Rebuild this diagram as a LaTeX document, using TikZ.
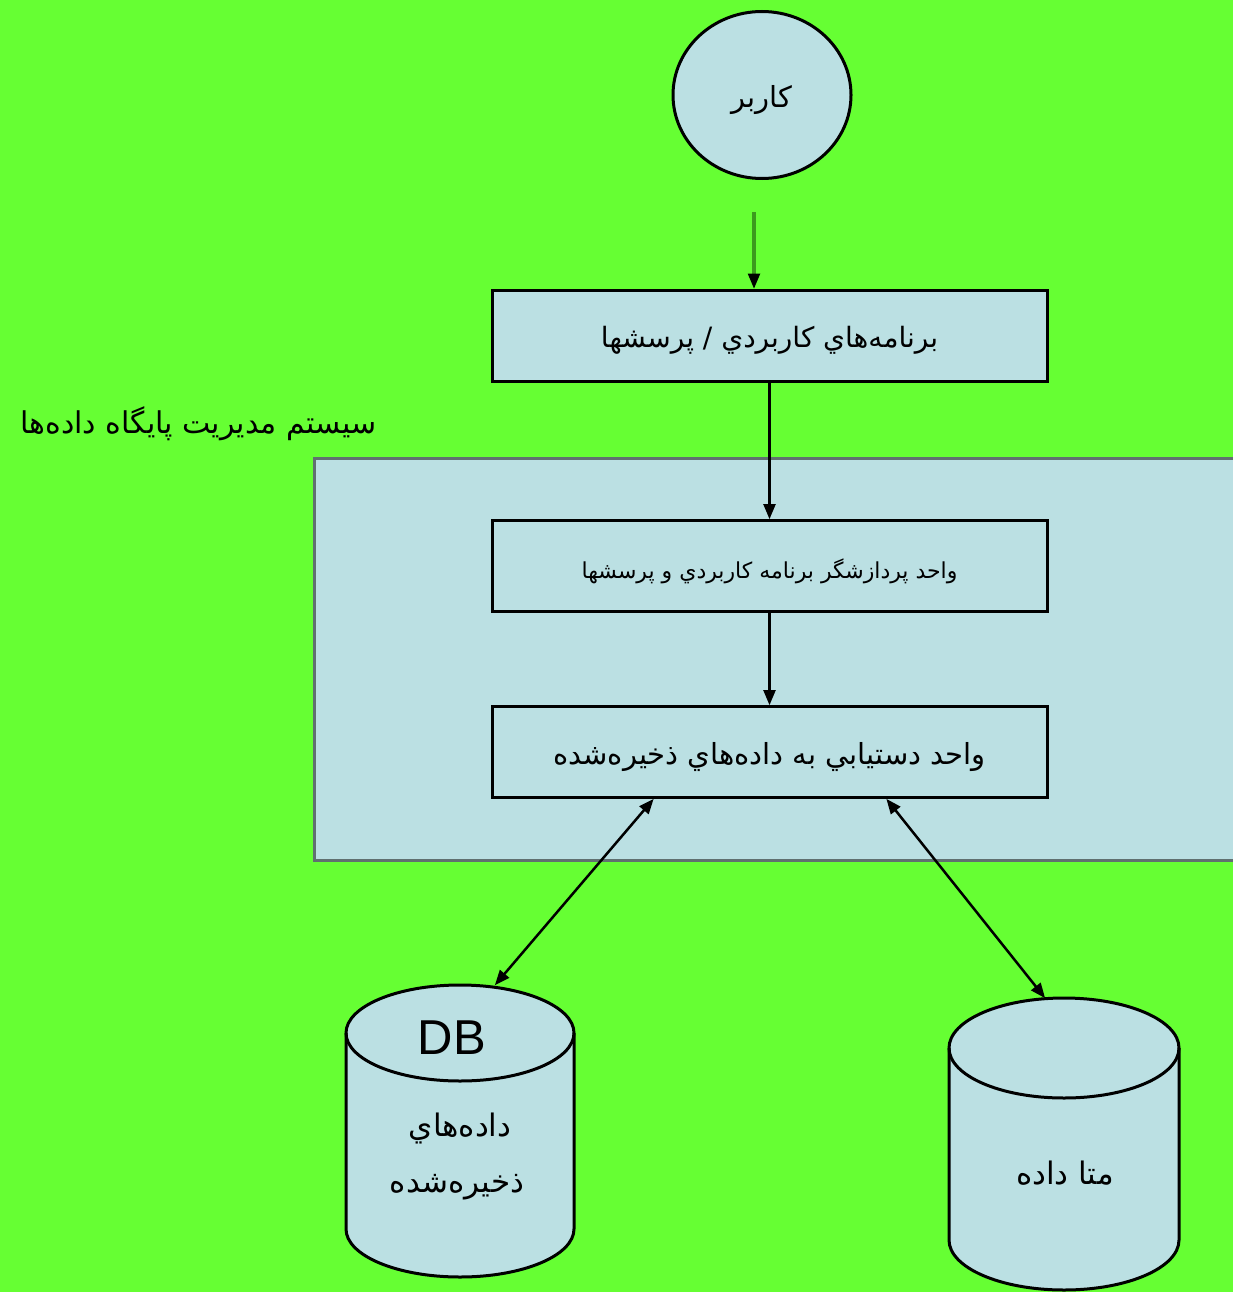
\documentclass[tikz,border=0pt]{standalone}
\usepackage{fontspec}
\setmainfont{Liberation Sans}
\newfontfamily\arabicfont[Script=Arabic]{DejaVu Sans}
\TeXXeTstate=1
\usetikzlibrary{arrows,shapes.geometric}
\definecolor{bg}{RGB}{102,255,51}
\definecolor{pale}{RGB}{187,224,227}
\definecolor{stem}{RGB}{60,154,30}
\definecolor{frame}{RGB}{96,112,112}
\newcommand{\fa}[1]{\raisebox{-5pt}[\height][\depth]{\arabicfont\beginR #1\endR}}

\begin{document}
\begin{tikzpicture}[x=1pt,y=1pt,>=triangle 45,
	unit/.style={draw,fill=pale,line width=3pt,minimum width=555pt,minimum height=91pt,inner sep=0pt},
	link/.style={line width=2.5pt},
	txt/.style={font=\fontsize{29}{34}\selectfont}]
	\fill[bg] (0,0) rectangle (1233,-1292);
	\useasboundingbox (0,0) rectangle (1233,-1292);
	
	% user
	\node[ellipse,draw,fill=pale,line width=3pt,minimum width=178pt,minimum height=167pt,txt] (user) at (762,-95) {\fa{کاربر}};
	
	% dbms region
	\draw[frame,fill=pale,line width=3pt] (314,-458) rectangle (1250,-860);
	\node[font=\fontsize{30}{34}\selectfont,anchor=east] (dbms) at (380,-419) {\fa{سيستم مديريت پايگاه داده^^^^200cها}};
	
	\node[unit,font=\fontsize{28}{32}\selectfont] (apps) at (769.5,-335.5) {\fa{برنامه^^^^200cهاي کاربردي / پرسشها}};
	\node[unit,font=\fontsize{22}{26}\selectfont] (proc) at (769.5,-566) {\fa{واحد پردازشگر برنامه کاربردي و پرسشها}};
	\node[unit,txt] (access) at (769.5,-752) {\fa{واحد دستيابي به داده^^^^200cهاي ذخيره^^^^200cشده}};
	
	\coordinate (ustart) at (754,-212);
	\draw[stem,line width=3.5pt] (ustart) -- ([yshift=8pt]ustart |- apps.north);
	\draw[->,link] ([yshift=12pt]ustart |- apps.north) -- (ustart |- apps.north);
	\draw[->,link] (apps) -- (proc);
	\draw[->,link] (proc) -- (access);
	
	% stored data
	\draw[line width=3pt,fill=pale] (346,-1033) -- (346,-1229) arc (180:360:114 and 48) -- (574,-1033) arc (0:180:114 and 48) -- cycle;
	\draw[line width=3pt] (346,-1033) arc (180:360:114 and 48);
	\node[font=\fontsize{49}{50}\selectfont] (db) at (452,-1038) {DB};
	\node[font=\fontsize{31}{34}\selectfont] (stored1) at (460,-1123) {\fa{داده^^^^200cهاي}};
	\node[font=\fontsize{31}{34}\selectfont] (stored2) at (457,-1182) {\fa{ذخيره^^^^200cشده}};
	\coordinate (dbtop) at (495,-985);
	
	% metadata
	\draw[line width=3pt,fill=pale] (949,-1048) -- (949,-1240) arc (180:360:115 and 50) -- (1179,-1048) arc (0:180:115 and 50) -- cycle;
	\draw[line width=3pt] (949,-1048) arc (180:360:115 and 50);
	\node[font=\fontsize{31}{34}\selectfont] (meta) at (1065,-1168) {\fa{متا داده}};
	\coordinate (metatop) at (1045,-998);
	
	\draw[<->,link] ([xshift=163pt]access.south west) -- (dbtop);
	\draw[<->,link] ([xshift=-162pt]access.south east) -- (metatop);
\end{tikzpicture}
\end{document}
